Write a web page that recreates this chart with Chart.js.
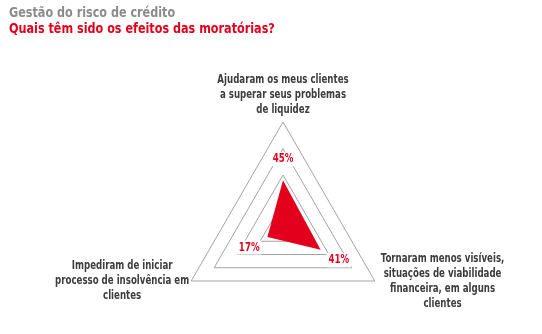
<!DOCTYPE html>
<html>
<head>
<meta charset="utf-8">
<script src="https://cdn.jsdelivr.net/npm/chart.js@4.4.1/dist/chart.umd.min.js"></script>
<style>
  html, body { margin: 0; padding: 0; background: #fff; }
  #wrap { width: 542px; height: 334px; }
</style>
</head>
<body>
<div id="wrap"><canvas id="radarChart" width="542" height="334"></canvas></div>
<script>
const FONT = "'DejaVu Sans Condensed', 'DejaVu Sans', sans-serif";
const RED = '#e2001c';
const SQUEEZE = 0.8; // narrow the type horizontally

const title = 'Gestão do risco de crédito';
const subtitle = 'Quais têm sido os efeitos das moratórias?';

// axes, clockwise from the top
const categories = [
  ['Ajudaram os meus clientes', 'a superar seus problemas', 'de liquidez'],
  ['Tornaram menos visíveis,', 'situações de viabilidade', 'financeira, em alguns', 'clientes'],
  ['Impediram de iniciar', 'processo de insolvência em', 'clientes']
];
const shares = [45, 41, 17];
const shareLabels = ['45%', '41%', '17%'];

function squeezedText(ctx, text, x, y, sx) {
  ctx.save();
  ctx.translate(x, y);
  ctx.scale(sx, 1);
  ctx.fillText(text, 0, 0);
  ctx.restore();
}

// headings, axis captions and value tags
const chartText = {
  id: 'chartText',
  afterDatasetsDraw(chart) {
    const scale = chart.scales.r;
    const ctx = chart.ctx;
    const lh = 15;
    ctx.save();
    ctx.textBaseline = 'middle';

    ctx.textAlign = 'left';
    ctx.font = 'bold 14px ' + FONT;
    ctx.fillStyle = '#8b8b8b';
    squeezedText(ctx, title, 9, 13, 0.89);
    ctx.fillStyle = RED;
    squeezedText(ctx, subtitle, 9, 29, 0.89);

    ctx.font = 'bold 12px ' + FONT;
    ctx.textAlign = 'center';
    ctx.fillStyle = '#3d3d3d';
    categories.forEach((lines, i) => {
      const p = scale.getPointPosition(i, scale.drawingArea);
      const w = Math.max(...lines.map(l => ctx.measureText(l).width)) * SQUEEZE;
      let x, y0;
      if (i === 0) {
        x = p.x;
        y0 = p.y - 12.5 - (lines.length - 1) * lh;
      } else if (i === 1) {
        x = p.x + 6 + w / 2;
        y0 = p.y - (lines.length - 1) * lh / 2;
      } else {
        x = p.x - 2 - w / 2;
        y0 = p.y - (lines.length - 1) * lh / 2;
      }
      lines.forEach((l, k) => squeezedText(ctx, l, x, y0 + k * lh, SQUEEZE));
    });

    shares.forEach((v, i) => {
      const p = scale.getPointPosition(i, scale.getDistanceFromCenterForValue(v) + 21);
      const w = ctx.measureText(shareLabels[i]).width * SQUEEZE;
      ctx.fillStyle = '#fff';
      ctx.fillRect(p.x - w / 2 - 2, p.y - 7, w + 4, 14);
      ctx.fillStyle = RED;
      squeezedText(ctx, shareLabels[i], p.x, p.y, SQUEEZE);
    });
    ctx.restore();
  }
};

new Chart(document.getElementById('radarChart'), {
  type: 'radar',
  data: {
    labels: categories,
    datasets: [{
      data: shares,
      backgroundColor: RED,
      borderWidth: 0,
      pointRadius: 0,
      fill: true
    }]
  },
  options: {
    responsive: false,
    animation: false,
    layout: { padding: { left: 25, right: 0, top: 122, bottom: 0 } },
    plugins: {
      legend: { display: false },
      tooltip: { enabled: false }
    },
    scales: {
      r: {
        min: 0,
        max: 100,
        ticks: { display: false, stepSize: 25 },
        grid: { color: '#a3a3a3', lineWidth: 1 },
        angleLines: { display: false },
        pointLabels: { display: false }
      }
    }
  },
  plugins: [chartText]
});
</script>
</body>
</html>
